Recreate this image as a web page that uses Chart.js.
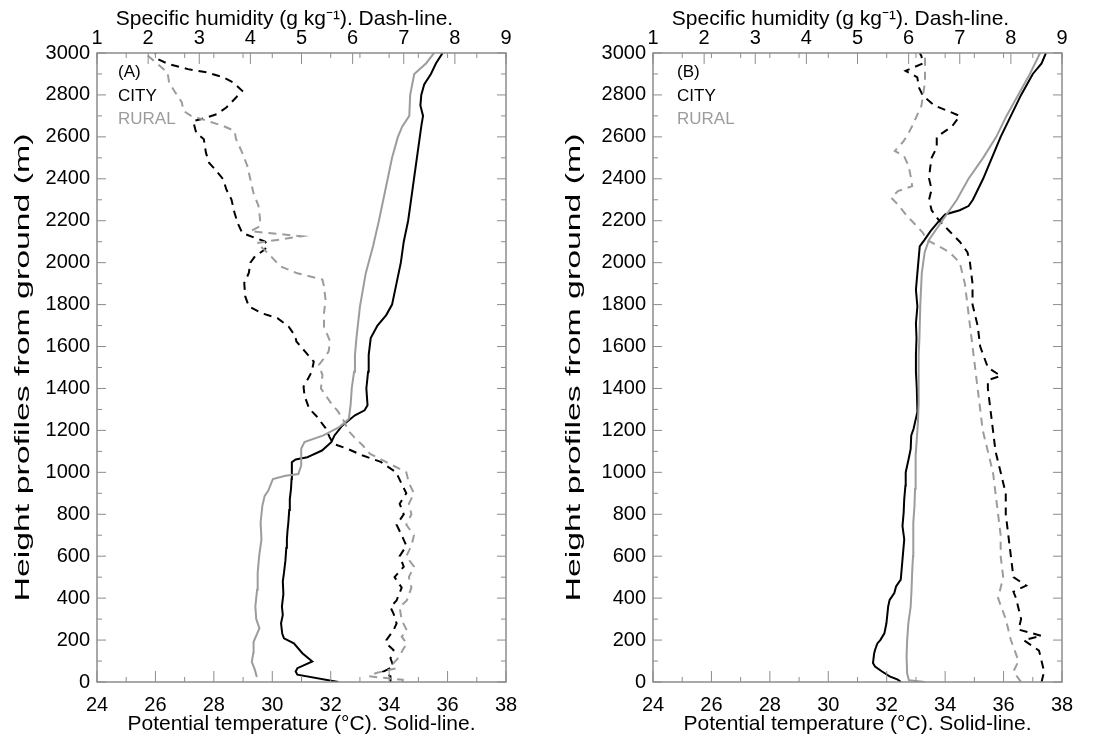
<!doctype html>
<html lang="en">
<head>
  <meta charset="utf-8" />
  <title>City vs rural profiles</title>
  <script src="https://cdn.jsdelivr.net/npm/chart.js@4.4.1/dist/chart.umd.min.js"></script>
  <style>
    body { margin: 0; background: #fff; }
    .panel { position: absolute; top: 0; width: 550px; height: 744px; }
    #boxA { left: 0; }
    #boxB { left: 550px; }
  </style>
</head>
<body>
  <div class="panel" id="boxA"><canvas id="chartA" width="550" height="744"></canvas></div>
  <div class="panel" id="boxB"><canvas id="chartB" width="550" height="744"></canvas></div>

  <script>
    // ---- panel (A): potential temperature (solid), degC ----
    const aCityTempH = [0, 35, 50, 66, 98, 137, 184, 208, 231, 280,
      320, 360, 420, 480, 520, 580, 640, 680, 720, 760,
      820, 872, 920, 968, 1048, 1061, 1072, 1080, 1104, 1144,
      1176, 1224, 1272, 1296, 1320, 1400, 1480, 1560, 1640, 1700,
      1750, 1800, 1900, 2000, 2100, 2200, 2300, 2400, 2500, 2600,
      2650, 2700, 2750, 2800, 2850, 2900, 2950, 3000];
    const aCityTemp = [32.26, 30.86, 30.8, 30.86, 31.37, 31.03, 30.74, 30.4, 30.34, 30.3,
      30.36, 30.33, 30.38, 30.36, 30.4, 30.45, 30.48, 30.5, 30.52, 30.55,
      30.58, 30.6, 30.64, 30.66, 30.67, 30.8, 31.2, 31.32, 31.7, 32.02,
      32.13, 32.4, 32.83, 33.16, 33.26, 33.22, 33.28, 33.3, 33.37, 33.6,
      33.9, 34.1, 34.25, 34.4, 34.5, 34.65, 34.75, 34.85, 34.95, 35.05,
      35.1, 35.16, 35.07, 35.1, 35.2, 35.43, 35.6, 35.83];

    const aRuralTempH = [24, 60, 96, 140, 192, 256, 300, 360, 440, 520,
      600, 680, 760, 840, 888, 912, 968, 984, 992, 1032,
      1112, 1144, 1176, 1216, 1240, 1256, 1320, 1400, 1480, 1560,
      1640, 1790, 1950, 2080, 2200, 2300, 2400, 2500, 2600, 2650,
      2700, 2800, 2900, 2950, 3000];
    const aRuralTemp = [29.47, 29.4, 29.3, 29.35, 29.36, 29.56, 29.45, 29.42, 29.48, 29.5,
      29.55, 29.63, 29.6, 29.66, 29.74, 29.86, 30.02, 30.45, 30.89, 30.99,
      30.99, 31.1, 31.75, 32.29, 32.5, 32.62, 32.68, 32.72, 32.8, 32.83,
      32.88, 33.0, 33.2, 33.45, 33.65, 33.8, 33.95, 34.1, 34.3, 34.45,
      34.69, 34.72, 34.86, 35.26, 35.54];

    // ---- panel (A): specific humidity (dashed), g/kg ----
    const aCityHumH = [0, 27, 50, 74, 113, 153, 184, 200, 247, 279,
      326, 357, 389, 450, 500, 550, 600, 650, 700, 750,
      800, 850, 900, 950, 1000, 1050, 1080, 1112, 1136, 1168,
      1211, 1269, 1304, 1365, 1408, 1448, 1480, 1528, 1573, 1624,
      1648, 1695, 1735, 1759, 1791, 1839, 1903, 1951, 2000, 2030,
      2062, 2086, 2102, 2118, 2142, 2190, 2238, 2301, 2349, 2397,
      2445, 2477, 2525, 2589, 2620, 2676, 2684, 2708, 2740, 2788,
      2820, 2860, 2884, 2907, 2923, 2947, 2971, 3000];
    const aCityHum = [6.74, 6.74, 6.6, 6.8, 6.74, 6.8, 6.66, 6.66, 6.8, 6.86,
      6.8, 6.74, 6.86, 6.96, 6.82, 7.0, 6.92, 7.05, 6.96, 6.86,
      7.0, 6.92, 7.05, 6.95, 6.85, 6.55, 6.2, 5.9, 5.62, 5.55,
      5.47, 5.29, 5.15, 5.06, 5.04, 5.13, 5.2, 5.24, 5.08, 4.9,
      4.88, 4.75, 4.53, 4.22, 3.97, 3.9, 3.88, 3.97, 4.0, 4.09,
      4.28, 4.34, 4.28, 4.09, 3.84, 3.75, 3.69, 3.63, 3.53, 3.47,
      3.31, 3.19, 3.13, 3.09, 2.94, 2.88, 3.03, 3.34, 3.53, 3.72,
      3.84, 3.66, 3.47, 3.16, 2.78, 2.4, 2.19, 2.14];

    const aRuralHumH = [0, 11, 27, 43, 66, 90, 121, 153, 184, 216,
      247, 294, 357, 389, 450, 500, 550, 600, 650, 700,
      750, 800, 850, 900, 950, 1000, 1050, 1088, 1128, 1168,
      1200, 1240, 1288, 1336, 1400, 1464, 1512, 1544, 1576, 1624,
      1695, 1759, 1823, 1887, 1919, 1951, 1982, 2046, 2094, 2126,
      2150, 2174, 2206, 2270, 2333, 2397, 2461, 2525, 2589, 2628,
      2652, 2676, 2700, 2724, 2764, 2812, 2860, 2907, 2940, 2980,
      3000];
    const aRuralHum = [6.98, 6.98, 6.32, 6.46, 6.86, 6.8, 6.92, 6.98, 7.06, 6.96,
      7.06, 6.96, 6.92, 7.06, 7.15, 7.1, 7.2, 7.05, 7.15, 7.2,
      7.05, 7.15, 7.1, 7.2, 7.1, 7.05, 6.65, 6.34, 6.2, 6.03,
      5.91, 5.84, 5.72, 5.56, 5.38, 5.41, 5.34, 5.44, 5.53, 5.56,
      5.44, 5.44, 5.47, 5.44, 5.41, 4.9, 4.59, 4.34, 4.13, 5.0,
      4.0, 4.19, 4.19, 4.16, 4.06, 4.0, 3.94, 3.84, 3.72, 3.69,
      3.47, 3.16, 2.84, 2.69, 2.66, 2.53, 2.41, 2.38, 2.22, 2.03,
      1.94];

    // ---- panel (B): potential temperature (solid) ----
    const bCityTempH = [0, 11, 27, 50, 74, 90, 136, 153, 184, 200,
      232, 280, 360, 392, 424, 456, 488, 520, 600, 680,
      744, 808, 872, 936, 1000, 1064, 1112, 1176, 1208, 1288,
      1400, 1480, 1560, 1640, 1711, 1791, 1871, 1951, 2030, 2078,
      2110, 2150, 2200, 2230, 2250, 2270, 2300, 2400, 2500, 2600,
      2700, 2800, 2900, 2950, 3000];
    const bCityTemp = [32.49, 32.38, 32.1, 31.84, 31.6, 31.53, 31.57, 31.6, 31.68, 31.78,
      31.92, 31.99, 32.05, 32.1, 32.26, 32.32, 32.48, 32.5, 32.55, 32.6,
      32.54, 32.58, 32.6, 32.64, 32.65, 32.75, 32.82, 32.84, 32.92, 33.05,
      33.03, 33.0, 33.0, 33.02, 33.0, 33.05, 33.0, 33.05, 33.1, 33.13,
      33.3, 33.5, 33.8, 34.0, 34.5, 34.8, 34.95, 35.3, 35.6, 35.9,
      36.25, 36.6, 37.0, 37.3, 37.45];

    const bRuralTempH = [0, 8, 40, 120, 200, 280, 360, 440, 520, 600,
      680, 760, 840, 920, 1000, 1080, 1160, 1240, 1320, 1400,
      1480, 1560, 1640, 1800, 1950, 2050, 2110, 2200, 2300, 2400,
      2500, 2600, 2700, 2800, 2900, 3000];
    const bRuralTemp = [33.3, 32.76, 32.7, 32.68, 32.7, 32.74, 32.82, 32.85, 32.87, 32.9,
      32.9, 32.92, 32.95, 32.97, 32.98, 33.0, 33.03, 33.07, 33.09, 33.1,
      33.08, 33.1, 33.12, 33.15, 33.2, 33.3, 33.45, 33.9, 34.4, 34.8,
      35.3, 35.75, 36.1, 36.5, 36.9, 37.25];

    // ---- panel (B): specific humidity (dashed) ----
    const bCityHumH = [0, 50, 100, 150, 200, 220, 250, 300, 400, 430,
      460, 500, 600, 700, 800, 900, 1000, 1100, 1200, 1300,
      1400, 1440, 1460, 1500, 1600, 1700, 1800, 1900, 2000, 2050,
      2100, 2150, 2200, 2250, 2300, 2350, 2400, 2450, 2500, 2550,
      2600, 2650, 2700, 2750, 2796, 2836, 2884, 2915, 2950, 2985,
      3000];
    const bCityHum = [8.6, 8.65, 8.6, 8.55, 8.25, 8.6, 8.15, 8.2, 8.1, 8.05,
      8.3, 8.05, 8.0, 7.95, 7.9, 7.9, 7.8, 7.7, 7.65, 7.6,
      7.55, 7.55, 7.8, 7.55, 7.4, 7.35, 7.25, 7.25, 7.2, 7.15,
      7.0, 6.8, 6.6, 6.45, 6.4, 6.45, 6.4, 6.42, 6.45, 6.55,
      6.55, 6.85, 7.0, 6.5, 6.28, 6.2, 6.17, 5.94, 6.28, 6.25,
      6.22];

    const bRuralHumH = [0, 50, 100, 200, 300, 400, 500, 600, 700, 800,
      900, 1000, 1100, 1200, 1300, 1400, 1500, 1600, 1700, 1800,
      1900, 2000, 2050, 2110, 2142, 2174, 2222, 2278, 2309, 2341,
      2365, 2400, 2461, 2509, 2533, 2573, 2604, 2652, 2700, 2748,
      2796, 2860, 2923, 3000];
    const bRuralHum = [8.2, 8.05, 8.15, 8.0, 7.9, 7.75, 7.85, 7.8, 7.8, 7.75,
      7.7, 7.65, 7.55, 7.45, 7.4, 7.35, 7.3, 7.25, 7.2, 7.15,
      7.1, 7.0, 6.8, 6.35, 6.28, 6.16, 5.97, 5.79, 5.66, 5.79,
      6.07, 6.05, 6.0, 5.91, 5.73, 5.88, 5.97, 6.07, 6.16, 6.25,
      6.28, 6.32, 6.32, 6.32];

    // axis tick positions
    const tempTicks = [24, 25, 26, 27, 28, 29, 30, 31, 32, 33, 34, 35, 36, 37, 38];
    const humTicks = [1, 2, 3, 4, 5, 6, 7, 8, 9];
    const heightTicks = [0, 100, 200, 300, 400, 500, 600, 700, 800, 900, 1000, 1100, 1200, 1300, 1400, 1500,
      1600, 1700, 1800, 1900, 2000, 2100, 2200, 2300, 2400, 2500, 2600, 2700, 2800, 2900, 3000];

    const FONT = "'Liberation Sans', Arial, Helvetica, sans-serif";
    const BLACK = "#000000";
    const GREY = "#9c9c9c";
    const FRAME = "#8c8c8c";
    const Y_TITLE = "Height profiles from ground (m)";
    const TOP_TITLE = "Specific humidity (g kg\u207B\u00B9). Dash-line.";

    const pts = (xs, hs) => xs.map((v, i) => ({ x: v, y: hs[i] }));

    // box + inward tick marks, panel letter, CITY / RURAL key, top title and the (stretched) y title
    const frameTicks = {
      id: "frameTicks",
      afterDatasetsDraw(chart, args, opts) {
        const { ctx, chartArea: a, scales } = chart;
        const seg = (x1, y1, x2, y2) => {
          ctx.beginPath(); ctx.moveTo(x1, y1); ctx.lineTo(x2, y2); ctx.stroke();
        };
        ctx.save();
        ctx.strokeStyle = FRAME;
        ctx.lineWidth = 1.5;
        ctx.strokeRect(a.left, a.top, a.width, a.height);
        ctx.lineWidth = 1;
        for (const t of tempTicks) {
          const x = scales.x.getPixelForValue(t);
          const len = t % 2 === 0 ? 11 : 5;
          seg(x, a.bottom, x, a.bottom - len);
          seg(x, a.top, x, a.top + 5);
        }
        for (const q of humTicks) {
          const x = scales.x2.getPixelForValue(q);
          seg(x, a.top, x, a.top + 11);
        }
        for (const h of heightTicks) {
          const y = scales.y.getPixelForValue(h);
          const len = h % 200 === 0 ? 9 : 5;
          seg(a.left, y, a.left + len, y);
          seg(a.right, y, a.right - len, y);
        }

        ctx.font = "17px " + FONT;
        ctx.textBaseline = "middle";
        ctx.fillStyle = BLACK;
        ctx.fillText(opts.letter, a.left + opts.dx, a.top + 19);
        ctx.fillText("CITY", a.left + opts.dx, a.top + 43);
        ctx.fillStyle = GREY;
        ctx.fillText("RURAL", a.left + opts.dx, a.top + 66);

        // top title sits a little left of the plot centre in the original
        ctx.fillStyle = BLACK;
        ctx.font = "21px " + FONT;
        ctx.textAlign = "center";
        ctx.fillText(TOP_TITLE, (a.left + a.right) / 2 - 17, 19);

        // y title, stretched along its length like the original plot
        const w = ctx.measureText(Y_TITLE).width;
        ctx.translate(opts.titleX, (a.top + a.bottom) / 2);
        ctx.rotate(-Math.PI / 2);
        ctx.scale(opts.titleLen / w, 1);
        ctx.fillText(Y_TITLE, 0, 0);
        ctx.restore();
      }
    };

    function makePanel(id, letter, dx, yWidth, padRight, titleX, d) {
      const solid = (data, color) => ({
        data, xAxisID: "x", yAxisID: "y", showLine: true, borderColor: color,
        borderWidth: 2, pointRadius: 0, tension: 0
      });
      const dashed = (data, color) => ({
        data, xAxisID: "x2", yAxisID: "y", showLine: true, borderColor: color,
        borderWidth: 2, borderDash: [8, 6], pointRadius: 0, tension: 0
      });
      const tickFont = { family: FONT, size: 20 };
      const titleFont = { family: FONT, size: 21 };
      return new Chart(document.getElementById(id), {
        type: "scatter",
        plugins: [frameTicks],
        data: {
          datasets: [
            solid(d.ruralTemp, GREY),
            dashed(d.ruralHum, GREY),
            solid(d.cityTemp, BLACK),
            dashed(d.cityHum, BLACK)
          ]
        },
        options: {
          responsive: false,
          animation: false,
          layout: { padding: { left: 0, right: padRight, top: 0, bottom: 0 } },
          plugins: {
            legend: { display: false },
            tooltip: { enabled: false },
            frameTicks: { letter: letter, dx: dx, titleX: titleX, titleLen: 468 }
          },
          scales: {
            x: {
              type: "linear", position: "bottom", min: 24, max: 38,
              ticks: { stepSize: 2, color: BLACK, font: tickFont, padding: 11, maxRotation: 0,
                callback: (v) => String(v) },
              grid: { display: false, drawTicks: false },
              border: { display: false },
              title: {
                display: true, text: "Potential temperature (\u00B0C). Solid-line.",
                color: BLACK, font: titleFont, padding: { top: 0, bottom: 7 }
              },
              afterFit: (s) => { s.height = 62; }
            },
            x2: {
              type: "linear", position: "top", min: 1, max: 9,
              ticks: { stepSize: 1, color: BLACK, font: tickFont, padding: 3, maxRotation: 0,
                callback: (v) => String(v) },
              grid: { display: false, drawTicks: false },
              border: { display: false },
              title: { display: false },
              afterFit: (s) => { s.height = 53; }
            },
            y: {
              type: "linear", position: "left", min: 0, max: 3000,
              ticks: { stepSize: 200, color: BLACK, font: tickFont, padding: 7,
                callback: (v) => String(v) },
              grid: { display: false, drawTicks: false },
              border: { display: false },
              title: { display: false },
              afterFit: (s) => { s.width = yWidth; }
            }
          }
        }
      });
    }

    makePanel("chartA", "(A)", 21, 97, 44, 23, {
      cityTemp: pts(aCityTemp, aCityTempH),
      ruralTemp: pts(aRuralTemp, aRuralTempH),
      cityHum: pts(aCityHum, aCityHumH),
      ruralHum: pts(aRuralHum, aRuralHumH)
    });

    makePanel("chartB", "(B)", 24, 103, 38, 24, {
      cityTemp: pts(bCityTemp, bCityTempH),
      ruralTemp: pts(bRuralTemp, bRuralTempH),
      cityHum: pts(bCityHum, bCityHumH),
      ruralHum: pts(bRuralHum, bRuralHumH)
    });
  </script>
</body>
</html>
